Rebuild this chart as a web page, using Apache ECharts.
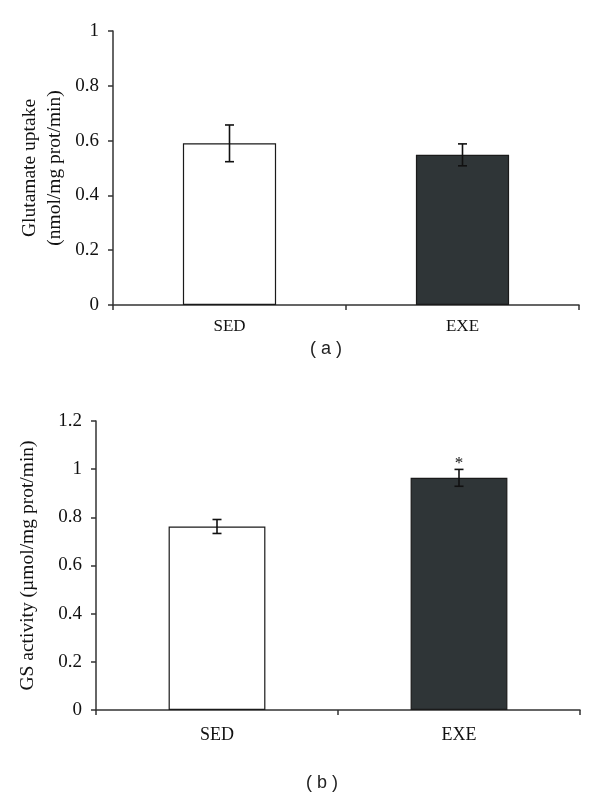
<!DOCTYPE html>
<html>
<head>
<meta charset="utf-8">
<script src="https://cdn.jsdelivr.net/npm/echarts@6/dist/echarts.min.js"></script>
<style>html,body{margin:0;padding:0;background:#fff}#c{width:600px;height:798px}</style>
</head>
<body>
<div id="c"></div>
<script>
// ---- data ----
const categories = ['SED', 'EXE'];
const uptakeMean = [0.59, 0.548];
const uptakeErr = [0.067, 0.04];
const gsMean = [0.762, 0.964];
const gsErr = [0.029, 0.035];
const gsSig = ['', '*'];
const uptakeTicks = [0, 0.2, 0.4, 0.6, 0.8, 1];
const gsTicks = [0, 0.2, 0.4, 0.6, 0.8, 1, 1.2];
const panelLabels = ['( a )', '( b )'];

const barColors = ['#ffffff', '#2f3537'];
const serif = '"Liberation Serif", "Times New Roman", serif';
const axisColor = '#333';
const textColor = '#111';

function errData(mean, err, sig) {
  return mean.map((m, i) => [i, m - err[i], m + err[i], sig ? sig[i] : '']);
}

function errRender(params, api) {
  const x = api.value(0);
  const lo = api.coord([x, api.value(1)]);
  const hi = api.coord([x, api.value(2)]);
  const hw = 4.5;
  const style = { stroke: '#111', lineWidth: 1.6 };
  const children = [
    { type: 'line', shape: { x1: lo[0], y1: lo[1], x2: hi[0], y2: hi[1] }, style },
    { type: 'line', shape: { x1: lo[0] - hw, y1: lo[1], x2: lo[0] + hw, y2: lo[1] }, style },
    { type: 'line', shape: { x1: hi[0] - hw, y1: hi[1], x2: hi[0] + hw, y2: hi[1] }, style }
  ];
  const s = api.value(3);
  if (s) {
    children.push({ type: 'text', x: hi[0], y: hi[1] + 3,
      style: { text: s, font: '17px ' + serif, fill: textColor, align: 'center', verticalAlign: 'bottom' } });
  }
  return { type: 'group', children };
}

function makeY(gridIndex, ticks, name, nameGap, fs) {
  return {
    type: 'value', gridIndex, min: ticks[0], max: ticks[ticks.length - 1], interval: ticks[1] - ticks[0],
    name, nameLocation: 'middle', nameRotate: 90, nameGap, nameMoveOverlap: false,
    nameTextStyle: { fontFamily: serif, fontSize: fs, color: textColor, lineHeight: 25 },
    axisLine: { show: true, lineStyle: { color: axisColor, width: 1.5 } },
    axisTick: { show: true, length: 5, lineStyle: { color: axisColor, width: 1.5 } },
    axisLabel: { fontFamily: serif, fontSize: 19, color: textColor, margin: 14 },
    splitLine: { show: false }
  };
}
function makeX(gridIndex, fs, margin) {
  return {
    type: 'category', gridIndex, data: categories,
    axisLine: { lineStyle: { color: axisColor, width: 1.5 } },
    axisTick: { show: true, length: 5, lineStyle: { color: axisColor, width: 1.5 } },
    axisLabel: { fontFamily: serif, fontSize: fs, color: textColor, margin }
  };
}
function barData(mean) {
  return mean.map((v, i) => ({ value: v, itemStyle: { color: barColors[i] } }));
}

const chart = echarts.init(document.getElementById('c'), null, { renderer: 'canvas' });
chart.setOption({
  animation: false,
  grid: [
    { left: 113, top: 31, right: 21, bottom: 493 },
    { left: 96, top: 421, right: 20, bottom: 88 }
  ],
  xAxis: [makeX(0, 17, 13), makeX(1, 18, 16)],
  yAxis: [
    makeY(0, uptakeTicks, 'Glutamate uptake\n(nmol/mg prot/min)', 46, 19.5),
    makeY(1, gsTicks, 'GS activity (µmol/mg prot/min)', 56, 19.5)
  ],
  graphic: [
    { type: 'text', x: 326, y: 349, style: { text: panelLabels[0], font: '18px "Liberation Sans", Arial, sans-serif', fill: '#222', align: 'center', verticalAlign: 'middle' } },
    { type: 'text', x: 322, y: 783, style: { text: panelLabels[1], font: '18px "Liberation Sans", Arial, sans-serif', fill: '#222', align: 'center', verticalAlign: 'middle' } }
  ],
  series: [
    { type: 'bar', xAxisIndex: 0, yAxisIndex: 0, data: barData(uptakeMean), barWidth: '40%',
      itemStyle: { borderColor: '#1a1a1a', borderWidth: 1.2 } },
    { type: 'custom', xAxisIndex: 0, yAxisIndex: 0, data: errData(uptakeMean, uptakeErr), renderItem: errRender, z: 5 },
    { type: 'bar', xAxisIndex: 1, yAxisIndex: 1, data: barData(gsMean), barWidth: '40%',
      itemStyle: { borderColor: '#1a1a1a', borderWidth: 1.2 } },
    { type: 'custom', xAxisIndex: 1, yAxisIndex: 1, data: errData(gsMean, gsErr, gsSig), renderItem: errRender, z: 5 }
  ]
});
</script>
</body>
</html>
